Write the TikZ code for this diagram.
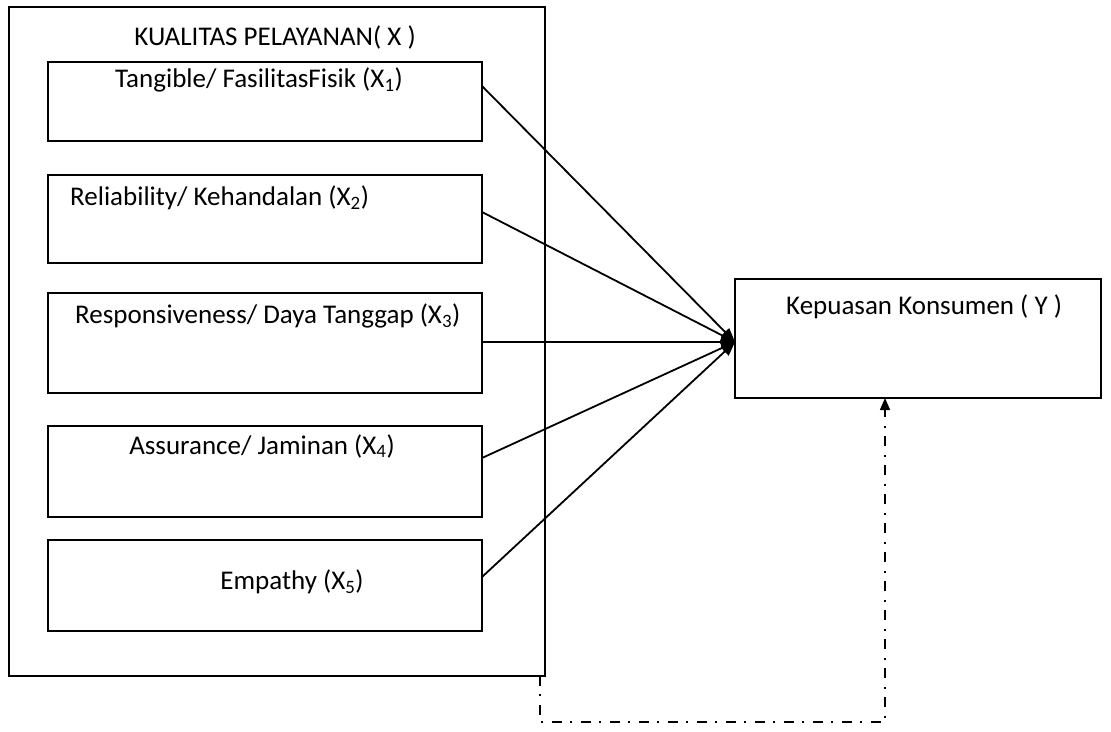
\documentclass[tikz,border=0pt]{standalone}
\usepackage{fontspec}
\setmainfont{Carlito}
\usetikzlibrary{arrows.meta}
\begin{document}
\begin{tikzpicture}[x=1pt,y=-1pt,
 box/.style={draw,line width=1.6pt,inner sep=0pt,outer sep=0pt,anchor=north west},
 lbl/.style={font=\fontsize{27}{31}\selectfont,inner sep=0pt},
 conn/.style={line width=1.8pt,-{Triangle[length=14pt,width=11pt]}},
 dd/.style={line width=1.5pt,dash pattern=on 10pt off 8pt on 2pt off 9pt}]
\useasboundingbox (0,0) rectangle (1111,731);
\node[box,minimum width=536pt,minimum height=669pt] (outer) at (9,7) {};
\node[box,minimum width=434pt,minimum height=79pt] (b1) at (48,62) {};
\node[box,minimum width=434pt,minimum height=88pt] (b2) at (48,175) {};
\node[box,minimum width=434pt,minimum height=100pt] (b3) at (48,293) {};
\node[box,minimum width=434pt,minimum height=91pt] (b4) at (48,426) {};
\node[box,minimum width=434pt,minimum height=91pt] (b5) at (48,540) {};
\node[box,minimum width=366pt,minimum height=119pt] (y) at (735,279) {};
\node[lbl] (title) at (275,37) {KUALITAS PELAYANAN( X )};
\node[lbl] (t1) at (259,80) {Tangible/ FasilitasFisik (X\textsubscript{1})};
\node[lbl,anchor=west] (t2) at (70,198) {Reliability/ Kehandalan (X\textsubscript{2})};
\node[lbl,anchor=west] (t3) at (75,316) {Responsiveness/ Daya Tanggap (X\textsubscript{3})};
\node[lbl] (t4) at (262,446) {Assurance/ Jaminan (X\textsubscript{4})};
\node[lbl] (t5) at (292,582) {Empathy (X\textsubscript{5})};
\node[lbl,anchor=west] (ty) at (786,307) {Kepuasan Konsumen ( Y )};
\coordinate (s1) at (482,86);
\coordinate (s2) at (482,212);
\coordinate (s3) at (482,342);
\coordinate (s4) at (482,458);
\coordinate (s5) at (482,577);
\coordinate (tip) at (735,342);
\draw[conn] (s1) -- (tip);
\draw[conn] (s2) -- (tip);
\draw[conn] (s3) -- (tip);
\draw[conn] (s4) -- (tip);
\draw[conn] (s5) -- (tip);
\coordinate (d1) at (540,676);
\coordinate (d2) at (540,722);
\coordinate (d3) at (885,722);
\coordinate (d4) at (885,398);
\draw[dd,-{Triangle[length=12pt,width=10pt]}] (d1) -- (d2) -- (d3) -- (d4);
\end{tikzpicture}
\end{document}
